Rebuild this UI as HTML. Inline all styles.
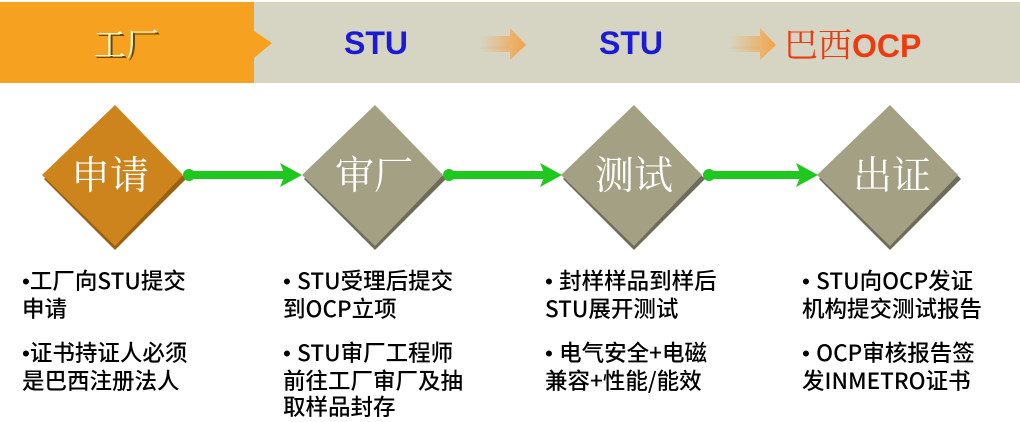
<!DOCTYPE html>
<html><head><meta charset="utf-8"><style>
body{margin:0;width:1020px;height:416px;background:#fff;position:relative;overflow:hidden;font-family:"Liberation Sans","Noto Sans CJK SC",sans-serif}
.t{position:absolute;font-size:22.5px;line-height:26px;color:#000;white-space:nowrap;font-family:"Noto Sans CJK SC","Liberation Sans",sans-serif;font-weight:500}
.b{font-family:"Liberation Sans",sans-serif}
.h{position:absolute;top:23px;font-weight:bold;font-size:32px;line-height:40px}
</style></head><body>
<svg width="1020" height="416" style="position:absolute;left:0;top:0">
<defs>
<linearGradient id="ga" x1="0" x2="1"><stop offset="0" stop-color="#d6d5c4"/><stop offset="1" stop-color="#f5a040"/></linearGradient>
</defs>
<rect x="0" y="2" width="1020" height="81" fill="#d6d5c4"/>
<rect x="0" y="2" width="254" height="81" fill="#f6a11f"/>
<polygon points="254,31 272,43 254,58" fill="#f6a11f"/>
<g>
<rect x="480" y="46" width="30" height="3" fill="#a09a86"/>
<polygon points="480,36 510,36 510,28 526,45 510,60 510,52 480,52" fill="url(#ga)" opacity="0.95"/>
<rect x="730" y="46" width="30" height="3" fill="#a09a86"/>
<polygon points="730,36 760,36 760,28 776,45 760,60 760,52 730,52" fill="url(#ga)" opacity="0.95"/>
</g>
<g>
<polygon points="115,108 186,179 115,250 44,179" fill="#9a5f12"/>
<polygon points="115,105 183,175 115,246 42,175" fill="#cd841c"/>
<polygon points="375,108 446,179 375,250 304,179" fill="#6e6c58"/>
<polygon points="375,105 443,175 375,246 302,175" fill="#a3a084"/>
<polygon points="634,108 705,179 634,250 563,179" fill="#6e6c58"/>
<polygon points="634,105 702,175 634,246 561,175" fill="#a3a084"/>
<polygon points="890,108 961,179 890,250 819,179" fill="#6e6c58"/>
<polygon points="890,105 958,175 890,246 817,175" fill="#a3a084"/>
</g>
<g fill="#1ec81e">
<circle cx="189" cy="175" r="6"/><rect x="189" y="171" width="96" height="8"/><polygon points="280,163 302,175 280,187 285,175"/>
<circle cx="449" cy="175" r="6"/><rect x="449" y="171" width="96" height="8"/><polygon points="540,163 562,175 540,187 545,175"/>
<circle cx="709" cy="175" r="6"/><rect x="709" y="171" width="92" height="8"/><polygon points="796,163 818,175 796,187 801,175"/>
</g>
<g font-family="'Noto Serif CJK SC','WenQuanYi Zen Hei',serif" font-size="39" fill="#fff" text-anchor="middle">
<text x="110" y="189">申请</text>
<text x="374" y="189">审厂</text>
<text x="634" y="189">测试</text>
<text x="892" y="189">出证</text>
</g>
<text x="128" y="58" font-family="'Noto Serif CJK SC',serif" font-size="33" fill="#5a4a10" text-anchor="middle">工厂</text>
<text x="126" y="56" font-family="'Noto Serif CJK SC',serif" font-size="33" fill="#fff7d0" text-anchor="middle">工厂</text>
</svg>
<div class="h" style="left:344px;color:#1a1ad8">STU</div>
<div class="h" style="left:599px;color:#1a1ad8">STU</div>
<div class="h" style="left:784px;color:#ee3a10"><span style="font-weight:normal;font-family:'Noto Serif CJK SC',serif;font-size:34px">巴西</span>OCP</div>

<div class="t" style="left:22px;top:267px"><span class="b">•</span>工厂向STU提交<br>申请</div>
<div class="t" style="left:22px;top:339px"><span class="b">•</span>证书持证人必须<br>是巴西注册法人</div>
<div class="t" style="left:283px;top:267px"><span class="b">• </span>STU受理后提交<br>到OCP立项</div>
<div class="t" style="left:283px;top:339px"><span class="b">• </span>STU审厂工程师<br>前往工厂审厂及抽<br>取样品封存</div>
<div class="t" style="left:545px;top:267px"><span class="b">• </span>封样样品到样后<br>STU展开测试</div>
<div class="t" style="left:545px;top:339px"><span class="b">• </span>电气安全+电磁<br>兼容+性能/能效</div>
<div class="t" style="left:802px;top:267px"><span class="b">• </span>STU向OCP发证<br>机构提交测试报告</div>
<div class="t" style="left:802px;top:339px"><span class="b">• </span>OCP审核报告签<br>发INMETRO证书</div>
</body></html>
